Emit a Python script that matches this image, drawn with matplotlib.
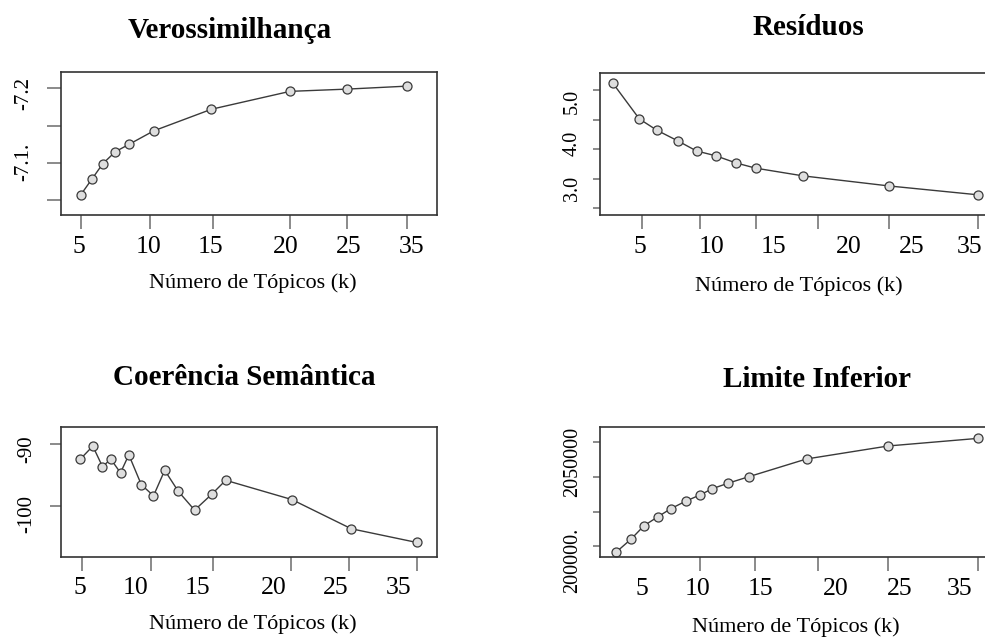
import numpy as np
import matplotlib
matplotlib.use('Agg')
import matplotlib.pyplot as plt

W, H = 985, 637

K_TICKS = [5, 10, 15, 20, 25, 35]
K_LABELS = ['5', '10', '15', '20', '25', '35']
XLABEL = 'Número de Tópicos (k)'

# Verossimilhança
k_vero = [5, 5.8, 6.6, 7.5, 8.5, 10.3, 14.9, 20, 25, 35]
vero = [-7.057, -7.078, -7.099, -7.115, -7.125, -7.143, -7.172, -7.196, -7.199, -7.203]

# Resíduos
k_resid = [2.5, 4.8, 6.3, 8.1, 9.7, 11.4, 13.2, 15, 18.8, 25, 35]
resid = [5.12, 4.51, 4.32, 4.14, 3.97, 3.89, 3.77, 3.68, 3.55, 3.38, 3.23]

# Coerência Semântica
k_coer = [4.9, 5.8, 6.5, 7.1, 7.8, 8.4, 9.3, 10.2, 11.1, 12.2, 13.5, 14.9, 15.8, 20.1, 25.3, 35]
coer = [-92.4, -90.3, -93.6, -92.4, -94.6, -91.7, -96.5, -98.3, -94.2, -97.6,
        -100.6, -98.0, -95.8, -98.9, -103.6, -105.8]

# Limite Inferior
k_lim = [2.8, 4.1, 5.2, 6.4, 7.5, 8.8, 10.0, 11.1, 12.5, 14.4, 19.1, 25, 35]
lim = [1995700, 2005300, 2014900, 2021400, 2027200, 2032700, 2037100,
       2041600, 2045500, 2050300, 2063100, 2072500, 2078000]

plt.rcParams['font.family'] = ['Liberation Serif', 'DejaVu Serif']

fig = plt.figure(figsize=(W / 100, H / 100), dpi=100)


def px(x, y):
    return x / W, 1 - y / H


def piecewise(xs, ys):
    """ Interpolacion lineal por tramos, extrapolando en los extremos. """
    xs = np.asarray(xs, float)
    ys = np.asarray(ys, float)
    s0 = (ys[1] - ys[0]) / (xs[1] - xs[0])
    s1 = (ys[-1] - ys[-2]) / (xs[-1] - xs[-2])

    def f(v):
        v = np.asarray(v, float)
        out = np.interp(v, xs, ys)
        out = np.where(v < xs[0], ys[0] + (v - xs[0]) * s0, out)
        out = np.where(v > xs[-1], ys[-1] + (v - xs[-1]) * s1, out)
        return out
    return f


def panel(box, k, vals, marks, label_x, ylim, yticks, ylen):
    l, t, r, b = box
    ax = fig.add_axes([l / W, 1 - b / H, (r - l) / W, (b - t) / H])
    fwd = piecewise(K_TICKS, marks)
    inv = piecewise(marks, K_TICKS)
    ax.set_xscale('function', functions=(fwd, inv))
    ax.plot(k, vals, '-', color='#3a3a3a', lw=1.0, marker='o', ms=6.5,
            mfc='#dedede', mec='#3a3a3a', mew=0.9)
    ax.set_xlim(float(inv(l)), float(inv(r)))
    ax.set_ylim(*ylim)
    ax.set_xticks(K_TICKS, minor=True)
    ax.set_xticks(inv(np.array(label_x, float)), K_LABELS)
    ax.tick_params(axis='x', which='minor', length=10, width=1.2, color='#777777')
    ax.tick_params(axis='x', which='major', length=0, pad=15, labelsize=18.5)
    ax.set_yticks(yticks)
    ax.set_yticklabels([])
    ax.yaxis.set_minor_locator(matplotlib.ticker.NullLocator())
    ax.tick_params(axis='y', length=ylen, width=1.2, color='#777777')
    for s in ax.spines.values():
        s.set_color('#333333')
        s.set_linewidth(1.2)
    return ax


def ylabels(x, ys, texts, size):
    for y, s in zip(ys, texts):
        fig.text(*px(x, y), s, rotation=90, ha='center', va='center', fontsize=size)


# Verossimilhança
panel((61, 72, 436.7, 215), k_vero, vero,
      [80.7, 150, 212.7, 290, 346.7, 406.7],
      [79.3, 148.3, 210.7, 286, 348.3, 411.7],
      (-7.030, -7.222), [-7.2, -7.15, -7.1, -7.05], 10)
ylabels(24, [93, 161.7], ['-7.2', '-7.1.'], 15)
fig.text(*px(230, 38.3), 'Verossimilhança', ha='center', va='baseline',
         fontsize=21, fontweight='bold')
fig.text(*px(252.5, 288.3), XLABEL, ha='center', va='baseline', fontsize=16)

# Resíduos
panel((600, 73.3, 990, 215), k_resid, resid,
      [641.7, 700, 755.7, 818, 889, 978.3],
      [640, 711.7, 773.3, 848.3, 911.7, 970],
      (2.89, 5.28), [3.0, 3.5, 4.0, 4.5, 5.0], 5)
ylabels(572, [101.5, 143.5, 188], ['5.0', '4.0', '3.0'], 14.5)
fig.text(*px(808, 35), 'Resíduos', ha='center', va='baseline',
         fontsize=21, fontweight='bold')
fig.text(*px(799, 290.7), XLABEL, ha='center', va='baseline', fontsize=16)

# Coerência Semântica
panel((61, 426.7, 436.7, 556.5), k_coer, coer,
      [81.7, 151, 213.3, 290.7, 349.3, 416.7],
      [80, 136, 197.3, 273.3, 336, 398.3],
      (-108.06, -87.18), [-100, -90], 8)
ylabels(27, [449, 514], ['-90', '-100'], 15)
fig.text(*px(244, 385), 'Coerência Semântica', ha='center', va='baseline',
         fontsize=21, fontweight='bold')
fig.text(*px(252.5, 629.3), XLABEL, ha='center', va='baseline', fontsize=16)

# Limite Inferior
panel((600, 426.7, 990, 556.7), k_lim, lim,
      [641.7, 700, 755.5, 817.7, 888.3, 978.3],
      [641.7, 697.3, 760, 836, 900, 960],
      (1992486, 2086416), [2000000, 2025000, 2050000, 2075000], 5)
ylabels(573, [462, 560], ['2050000', '200000.'], 14.5)
fig.text(*px(817, 386.7), 'Limite Inferior', ha='center', va='baseline',
         fontsize=21, fontweight='bold')
fig.text(*px(796, 631.7), XLABEL, ha='center', va='baseline', fontsize=16)

fig.savefig('out.png', dpi=100)
